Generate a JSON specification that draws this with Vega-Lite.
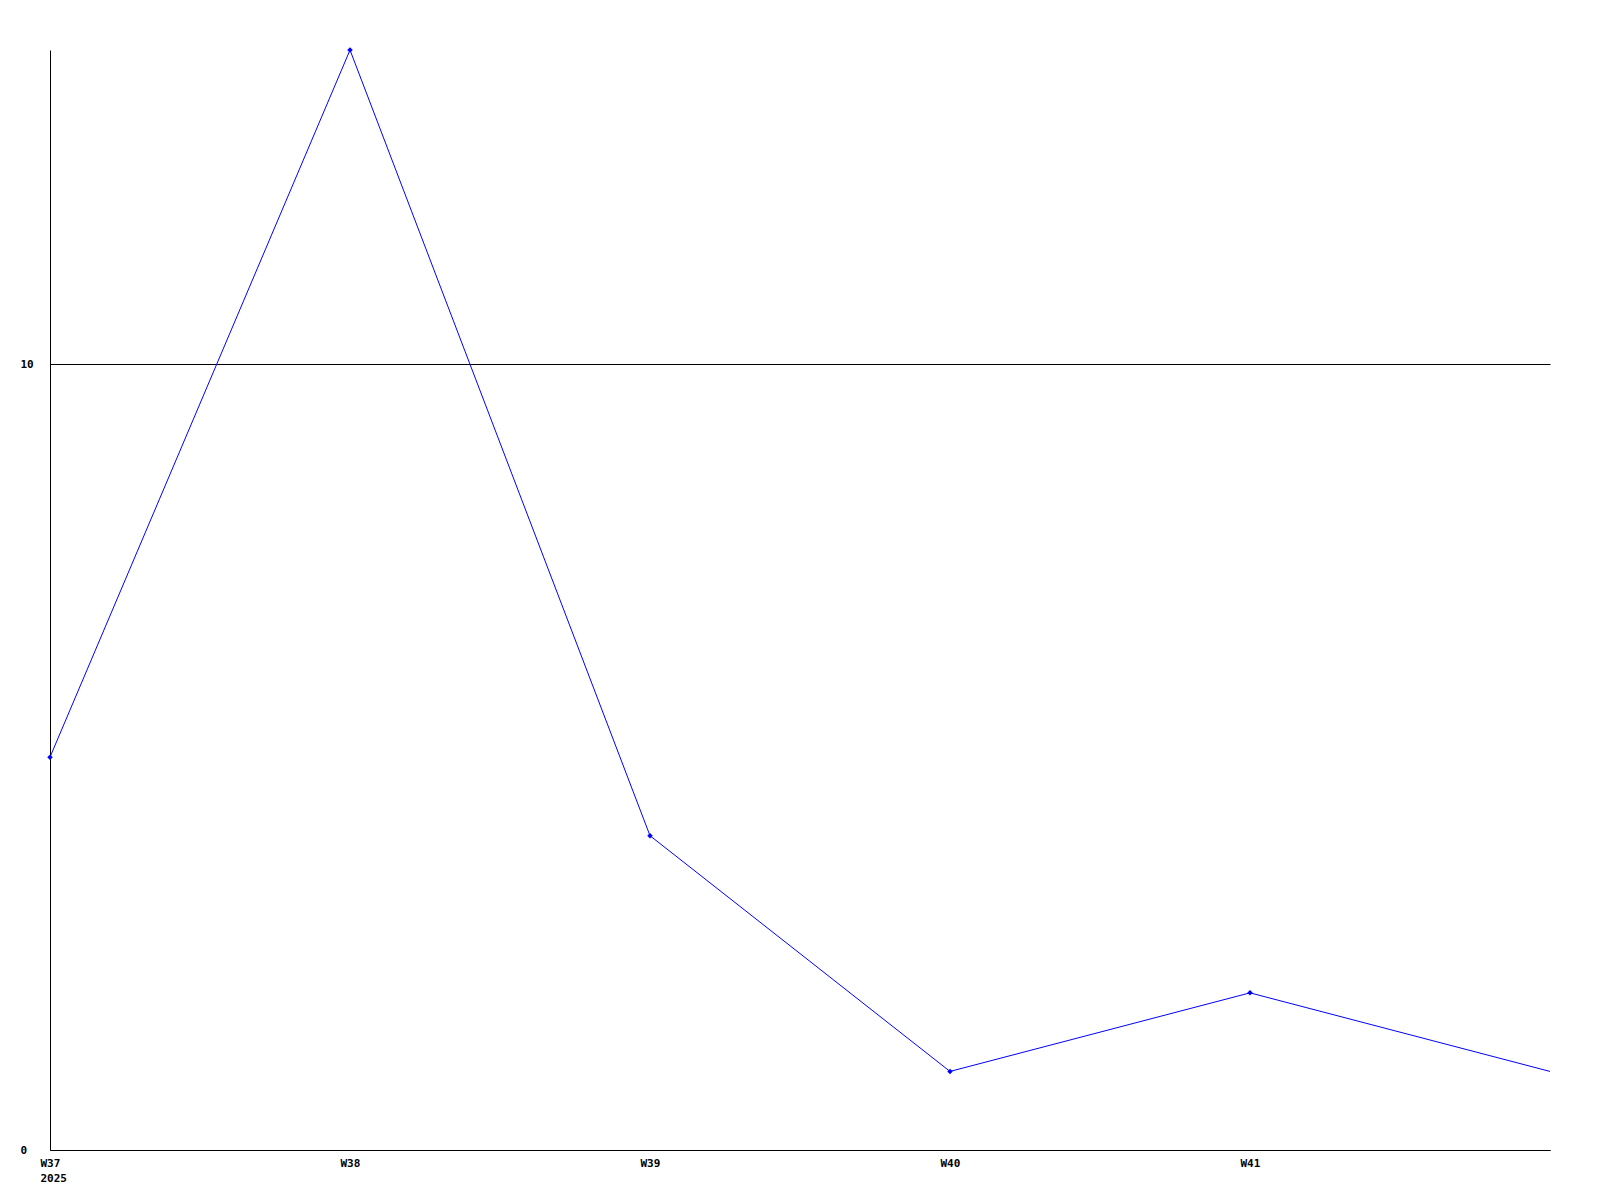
{
  "$schema": "https://vega.github.io/schema/vega-lite/v6.json",
  "width": 1500,
  "height": 1100,
  "autosize": "none",
  "padding": {"left": 50, "top": 50, "right": 50, "bottom": 50},
  "background": "white",
  "config": {"view": {"stroke": null}},
  "data": {"values": [
    {"i": 0, "week": "W37", "value": 5, "marker": true},
    {"i": 1, "week": "W38", "value": 14, "marker": true},
    {"i": 2, "week": "W39", "value": 4, "marker": true},
    {"i": 3, "week": "W40", "value": 1, "marker": true},
    {"i": 4, "week": "W41", "value": 2, "marker": true},
    {"i": 5, "week": "W42", "value": 1, "marker": false}
  ]},
  "encoding": {
    "x": {"field": "i", "type": "quantitative",
      "scale": {"domain": [0, 5], "nice": false, "zero": false},
      "axis": {"title": null, "values": [0, 1, 2, 3, 4], "grid": false, "ticks": false,
        "domainColor": "black", "domainWidth": 1,
        "labelExpr": "datum.value == 0 ? ['W37', '2025'] : 'W' + (37 + datum.value)",
        "labelAlign": "left", "labelOffset": -10, "labelBaseline": "top", "labelPadding": 7,
        "labelLineHeight": 15, "labelFont": "DejaVu Sans Mono", "labelFontWeight": "bold",
        "labelFontSize": 11, "labelColor": "black", "labelFlush": false, "labelOverlap": false}},
    "y": {"field": "value", "type": "quantitative",
      "scale": {"domain": [0, 14], "nice": false},
      "axis": {"title": null, "values": [0, 10], "grid": true, "gridColor": "black", "gridOpacity": 1, "gridWidth": 1,
        "ticks": false, "domainColor": "black", "domainWidth": 1,
        "labelAlign": "left", "labelPadding": 30, "labelBaseline": "middle",
        "labelFont": "DejaVu Sans Mono", "labelFontWeight": "bold", "labelFontSize": 11,
        "labelColor": "black", "labelFlush": false, "labelOverlap": false}}
  },
  "layer": [
    {"mark": {"type": "line", "color": "#0000ff", "strokeWidth": 1}},
    {"transform": [{"filter": "datum.marker"}],
     "mark": {"type": "point", "shape": "diamond", "filled": true, "color": "#0000ff", "size": 30, "opacity": 1}}
  ]
}
